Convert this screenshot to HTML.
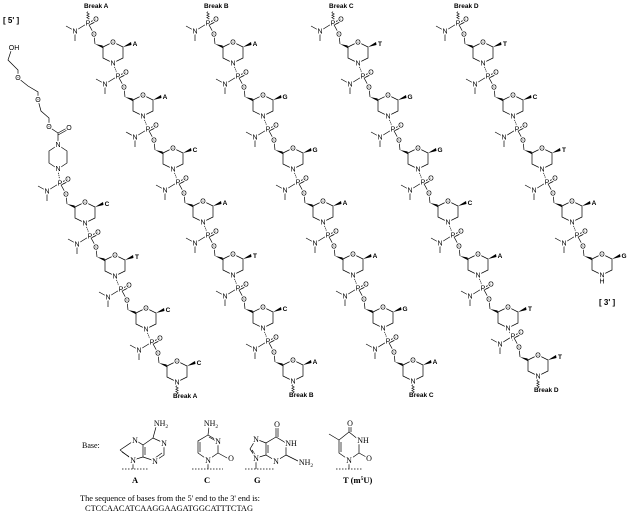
<!DOCTYPE html>
<html><head><meta charset="utf-8"><style>
html,body{margin:0;padding:0;background:#fff;}
svg{display:block;}
.a{font-family:"Liberation Sans",sans-serif;font-size:7px;text-anchor:middle;paint-order:stroke;stroke:#fff;stroke-width:2.5px;fill:#000;}
.b{font-family:"Liberation Sans",sans-serif;font-size:6.5px;font-weight:bold;text-anchor:middle;fill:#000;}
.k{font-family:"Liberation Sans",sans-serif;font-size:6.5px;font-weight:bold;fill:#000;}
.s{font-family:"Liberation Serif",serif;font-size:8px;fill:#000;}
.sa{font-family:"Liberation Serif",serif;font-size:8px;text-anchor:middle;paint-order:stroke;stroke:#fff;stroke-width:2.5px;fill:#000;}
.sb{font-family:"Liberation Serif",serif;font-size:8.5px;font-weight:bold;fill:#000;}
</style></head><body>
<svg width="629" height="513" viewBox="0 0 629 513" xmlns="http://www.w3.org/2000/svg">
<defs>
<g id="u" stroke="#000" stroke-width="0.7" fill="none">
<line x1="0" y1="0" x2="8" y2="-4"/><line x1="1" y1="2" x2="9" y2="-2"/>
<line x1="0" y1="0" x2="-13" y2="8"/><line x1="-13" y1="8" x2="-22" y2="3"/><line x1="-13" y1="8" x2="-13" y2="18"/>
<line x1="0" y1="0" x2="6" y2="11"/><line x1="6" y1="11" x2="7" y2="21"/>
<polygon points="7,21 14.5,22.5 15.5,25.5" fill="#000" stroke="none"/>
<polyline points="15,24 25,19 35,24 35,35 25,40 15,35 15,24"/>
<polygon points="35,24 43,19 43.5,22" fill="#000" stroke="none"/>
</g>
<line id="l" x1="25" y1="40" x2="30" y2="53" stroke="#000" stroke-width="0.7" stroke-dasharray="1.2,0.8"/>
<path id="w" d="M0,0 l1.2,-1.2 l-2.4,-1.2 l2.4,-1.2 l-2.4,-1.2 l2.4,-1.2 l-2.4,-1.2 l1.2,-1.2" stroke="#000" stroke-width="0.6" fill="none"/>
</defs>

<text class="k" x="3" y="23" style="font-size:8px">[ 5' ]</text>
<text class="k" x="599" y="305" style="font-size:8px">[ 3' ]</text>

<!-- tail linker -->
<g stroke="#000" stroke-width="0.7" fill="none">
<polyline points="12,48 8,60 18,70 18,78 28,86 38,92 38,100 41,111 49,118 49,127 58,133"/>
<line x1="58" y1="133" x2="67" y2="128"/><line x1="58" y1="135" x2="67" y2="130"/>
<line x1="58" y1="133" x2="58" y2="145"/>
<polyline points="58,145 49,151 49,163 58,169 67,163 67,151 58,145"/>
<line x1="58" y1="169" x2="60" y2="183" stroke-dasharray="1.2,0.8"/>
</g>
<text class="a" x="14" y="50">OH</text>
<text class="a" x="18" y="80">O</text>
<text class="a" x="38" y="102">O</text>
<text class="a" x="49" y="129">O</text>
<text class="a" x="69" y="130">O</text>
<text class="a" x="58" y="147">N</text>
<text class="a" x="58" y="171">N</text>

<!-- tail strand -->
<g transform="translate(60,183)"><use href="#u"/><use href="#l"/><text class="a" x="0 8 -13 6 25 25" y="2.5 -1.5 10.5 13.5 21.5 42.5">PONOON</text><text class="b" x="47" y="23">C</text></g>
<g transform="translate(90,236)"><use href="#u"/><use href="#l"/><text class="a" x="0 8 -13 6 25 25" y="2.5 -1.5 10.5 13.5 21.5 42.5">PONOON</text><text class="b" x="47" y="23">T</text></g>
<g transform="translate(121,289)"><use href="#u"/><use href="#l"/><text class="a" x="0 8 -13 6 25 25" y="2.5 -1.5 10.5 13.5 21.5 42.5">PONOON</text><text class="b" x="47" y="23">C</text></g>
<g transform="translate(152,342)"><use href="#u"/><text class="a" x="0 8 -13 6 25 25" y="2.5 -1.5 10.5 13.5 21.5 42.5">PONOON</text><text class="b" x="47" y="23">C</text>
<use href="#w" transform="translate(25,52)"/><text class="k" x="21" y="56">Break A</text></g>

<!-- strand A -->
<g transform="translate(88,23)"><use href="#w" transform="translate(0,-3)"/><text class="k" x="-4" y="-15">Break A</text><use href="#u"/><use href="#l"/><text class="a" x="0 8 -13 6 25 25" y="2.5 -1.5 10.5 13.5 21.5 42.5">PONOON</text><text class="b" x="47" y="23">A</text></g>
<g transform="translate(118,76)"><use href="#u"/><use href="#l"/><text class="a" x="0 8 -13 6 25 25" y="2.5 -1.5 10.5 13.5 21.5 42.5">PONOON</text><text class="b" x="47" y="23">A</text></g>
<g transform="translate(148,129)"><use href="#u"/><use href="#l"/><text class="a" x="0 8 -13 6 25 25" y="2.5 -1.5 10.5 13.5 21.5 42.5">PONOON</text><text class="b" x="47" y="23">C</text></g>
<g transform="translate(178,182)"><use href="#u"/><use href="#l"/><text class="a" x="0 8 -13 6 25 25" y="2.5 -1.5 10.5 13.5 21.5 42.5">PONOON</text><text class="b" x="47" y="23">A</text></g>
<g transform="translate(208,235)"><use href="#u"/><use href="#l"/><text class="a" x="0 8 -13 6 25 25" y="2.5 -1.5 10.5 13.5 21.5 42.5">PONOON</text><text class="b" x="47" y="23">T</text></g>
<g transform="translate(238,288)"><use href="#u"/><use href="#l"/><text class="a" x="0 8 -13 6 25 25" y="2.5 -1.5 10.5 13.5 21.5 42.5">PONOON</text><text class="b" x="47" y="23">C</text></g>
<g transform="translate(268,341)"><use href="#u"/><text class="a" x="0 8 -13 6 25 25" y="2.5 -1.5 10.5 13.5 21.5 42.5">PONOON</text><text class="b" x="47" y="23">A</text>
<use href="#w" transform="translate(25,52)"/><text class="k" x="21" y="56">Break B</text></g>

<!-- strand B -->
<g transform="translate(208,23)"><use href="#w" transform="translate(0,-3)"/><text class="k" x="-4" y="-15">Break B</text><use href="#u"/><use href="#l"/><text class="a" x="0 8 -13 6 25 25" y="2.5 -1.5 10.5 13.5 21.5 42.5">PONOON</text><text class="b" x="47" y="23">A</text></g>
<g transform="translate(238,76)"><use href="#u"/><use href="#l"/><text class="a" x="0 8 -13 6 25 25" y="2.5 -1.5 10.5 13.5 21.5 42.5">PONOON</text><text class="b" x="47" y="23">G</text></g>
<g transform="translate(268,129)"><use href="#u"/><use href="#l"/><text class="a" x="0 8 -13 6 25 25" y="2.5 -1.5 10.5 13.5 21.5 42.5">PONOON</text><text class="b" x="47" y="23">G</text></g>
<g transform="translate(298,182)"><use href="#u"/><use href="#l"/><text class="a" x="0 8 -13 6 25 25" y="2.5 -1.5 10.5 13.5 21.5 42.5">PONOON</text><text class="b" x="47" y="23">A</text></g>
<g transform="translate(328,235)"><use href="#u"/><use href="#l"/><text class="a" x="0 8 -13 6 25 25" y="2.5 -1.5 10.5 13.5 21.5 42.5">PONOON</text><text class="b" x="47" y="23">A</text></g>
<g transform="translate(358,288)"><use href="#u"/><use href="#l"/><text class="a" x="0 8 -13 6 25 25" y="2.5 -1.5 10.5 13.5 21.5 42.5">PONOON</text><text class="b" x="47" y="23">G</text></g>
<g transform="translate(388,341)"><use href="#u"/><text class="a" x="0 8 -13 6 25 25" y="2.5 -1.5 10.5 13.5 21.5 42.5">PONOON</text><text class="b" x="47" y="23">A</text>
<use href="#w" transform="translate(25,52)"/><text class="k" x="21" y="56">Break C</text></g>

<!-- strand C -->
<g transform="translate(333,23)"><use href="#w" transform="translate(0,-3)"/><text class="k" x="-4" y="-15">Break C</text><use href="#u"/><use href="#l"/><text class="a" x="0 8 -13 6 25 25" y="2.5 -1.5 10.5 13.5 21.5 42.5">PONOON</text><text class="b" x="47" y="23">T</text></g>
<g transform="translate(363,76)"><use href="#u"/><use href="#l"/><text class="a" x="0 8 -13 6 25 25" y="2.5 -1.5 10.5 13.5 21.5 42.5">PONOON</text><text class="b" x="47" y="23">G</text></g>
<g transform="translate(393,129)"><use href="#u"/><use href="#l"/><text class="a" x="0 8 -13 6 25 25" y="2.5 -1.5 10.5 13.5 21.5 42.5">PONOON</text><text class="b" x="47" y="23">G</text></g>
<g transform="translate(423,182)"><use href="#u"/><use href="#l"/><text class="a" x="0 8 -13 6 25 25" y="2.5 -1.5 10.5 13.5 21.5 42.5">PONOON</text><text class="b" x="47" y="23">C</text></g>
<g transform="translate(453,235)"><use href="#u"/><use href="#l"/><text class="a" x="0 8 -13 6 25 25" y="2.5 -1.5 10.5 13.5 21.5 42.5">PONOON</text><text class="b" x="47" y="23">A</text></g>
<g transform="translate(483,288)"><use href="#u"/><use href="#l"/><text class="a" x="0 8 -13 6 25 25" y="2.5 -1.5 10.5 13.5 21.5 42.5">PONOON</text><text class="b" x="47" y="23">T</text></g>
<g transform="translate(513,336)"><use href="#u"/><text class="a" x="0 8 -13 6 25 25" y="2.5 -1.5 10.5 13.5 21.5 42.5">PONOON</text><text class="b" x="47" y="23">T</text>
<use href="#w" transform="translate(25,52)"/><text class="k" x="21" y="56">Break D</text></g>

<!-- strand D -->
<g transform="translate(458,23)"><use href="#w" transform="translate(0,-3)"/><text class="k" x="-4" y="-15">Break D</text><use href="#u"/><use href="#l"/><text class="a" x="0 8 -13 6 25 25" y="2.5 -1.5 10.5 13.5 21.5 42.5">PONOON</text><text class="b" x="47" y="23">T</text></g>
<g transform="translate(488,76)"><use href="#u"/><use href="#l"/><text class="a" x="0 8 -13 6 25 25" y="2.5 -1.5 10.5 13.5 21.5 42.5">PONOON</text><text class="b" x="47" y="23">C</text></g>
<g transform="translate(517,129)"><use href="#u"/><use href="#l"/><text class="a" x="0 8 -13 6 25 25" y="2.5 -1.5 10.5 13.5 21.5 42.5">PONOON</text><text class="b" x="47" y="23">T</text></g>
<g transform="translate(547,182)"><use href="#u"/><use href="#l"/><text class="a" x="0 8 -13 6 25 25" y="2.5 -1.5 10.5 13.5 21.5 42.5">PONOON</text><text class="b" x="47" y="23">A</text></g>
<g transform="translate(577,235)"><use href="#u"/><text class="a" x="0 8 -13 6 25 25" y="2.5 -1.5 10.5 13.5 21.5 42.5">PONOON</text><text class="a" x="25" y="48.5">H</text><text class="b" x="47" y="23">G</text></g>

<!-- Bases -->
<text class="s" x="82" y="448">Base:</text>
<g stroke="#000" stroke-width="0.7" fill="none">
<polyline points="120,450 135,440 143,445 143,457 133,460 120,450"/>
<polyline points="143,445 153,438 164,443 164,455 155,461 143,457"/>
<line x1="153" y1="438" x2="156" y2="427"/>
<line x1="122" y1="452" x2="131" y2="458"/><line x1="145" y1="447" x2="145" y2="455"/><line x1="162" y1="453" x2="155" y2="458"/>
<line x1="133" y1="460" x2="133" y2="469"/>
<line x1="122" y1="469" x2="148" y2="469" stroke-dasharray="1.5,1.5"/>
<polyline points="208,435 218,441 218,453 208,460 198,453 198,441 208,435"/>
<line x1="208" y1="435" x2="209" y2="427"/><line x1="218" y1="453" x2="229" y2="459"/>
<line x1="200" y1="442" x2="200" y2="452"/><line x1="209" y1="437" x2="216" y2="441"/>
<line x1="208" y1="460" x2="208" y2="469"/>
<line x1="192" y1="469" x2="223" y2="469" stroke-dasharray="1.5,1.5"/>
<polyline points="276,437 286,443 286,455 276,461 266,455 266,443 276,437"/>
<polyline points="266,443 256,439 250,449 256,458 266,455"/>
<line x1="276" y1="437" x2="276" y2="427"/><line x1="278" y1="437" x2="278" y2="427"/>
<line x1="286" y1="455" x2="298" y2="461"/>
<line x1="268" y1="445" x2="268" y2="453"/><line x1="252" y1="450" x2="256" y2="456"/>
<line x1="256" y1="458" x2="256" y2="469"/>
<line x1="245" y1="469" x2="275" y2="469" stroke-dasharray="1.5,1.5"/>
<polyline points="349,432 359,440 359,453 349,460 339,453 339,440 349,432"/>
<line x1="349" y1="432" x2="349" y2="425"/><line x1="351" y1="432" x2="351" y2="425"/>
<line x1="359" y1="453" x2="368" y2="458"/>
<line x1="339" y1="440" x2="329" y2="434"/><line x1="341" y1="442" x2="341" y2="452"/>
<line x1="349" y1="460" x2="349" y2="469"/>
<line x1="336" y1="469" x2="363" y2="469" stroke-dasharray="1.5,1.5"/>
</g>
<text class="sa" x="135" y="443">N</text>
<text class="sa" x="164" y="446">N</text>
<text class="sa" x="155" y="464">N</text>
<text class="sa" x="133" y="463">N</text>
<text class="sa" x="161" y="426">NH<tspan font-size="5.5" dy="2">2</tspan></text>
<text class="sa" x="218" y="444">N</text>
<text class="sa" x="208" y="463">N</text>
<text class="sa" x="231" y="461">O</text>
<text class="sa" x="211" y="426">NH<tspan font-size="5.5" dy="2">2</tspan></text>
<text class="sa" x="277" y="427">O</text>
<text class="sa" x="256" y="442">N</text>
<text class="sa" x="276" y="464">N</text>
<text class="sa" x="256" y="461">N</text>
<text class="sa" x="291" y="446">NH</text>
<text class="sa" x="306" y="465">NH<tspan font-size="5.5" dy="2">2</tspan></text>
<text class="sa" x="350" y="426">O</text>
<text class="sa" x="349" y="463">N</text>
<text class="sa" x="369" y="461">O</text>
<text class="sa" x="363" y="443">NH</text>
<text class="sb" x="132" y="483">A</text>
<text class="sb" x="204" y="483">C</text>
<text class="sb" x="254" y="483">G</text>
<text class="sb" x="343" y="483">T (m<tspan font-size="5.5" dy="-3">5</tspan><tspan dy="3">U)</tspan></text>
<text class="s" x="80" y="501" textLength="180" lengthAdjust="spacingAndGlyphs">The sequence of bases from the 5' end to the 3' end is:</text>
<text class="s" x="85" y="511" textLength="168" lengthAdjust="spacingAndGlyphs">CTCCAACATCAAGGAAGATGGCATTTCTAG</text>
</svg>
</body></html>
